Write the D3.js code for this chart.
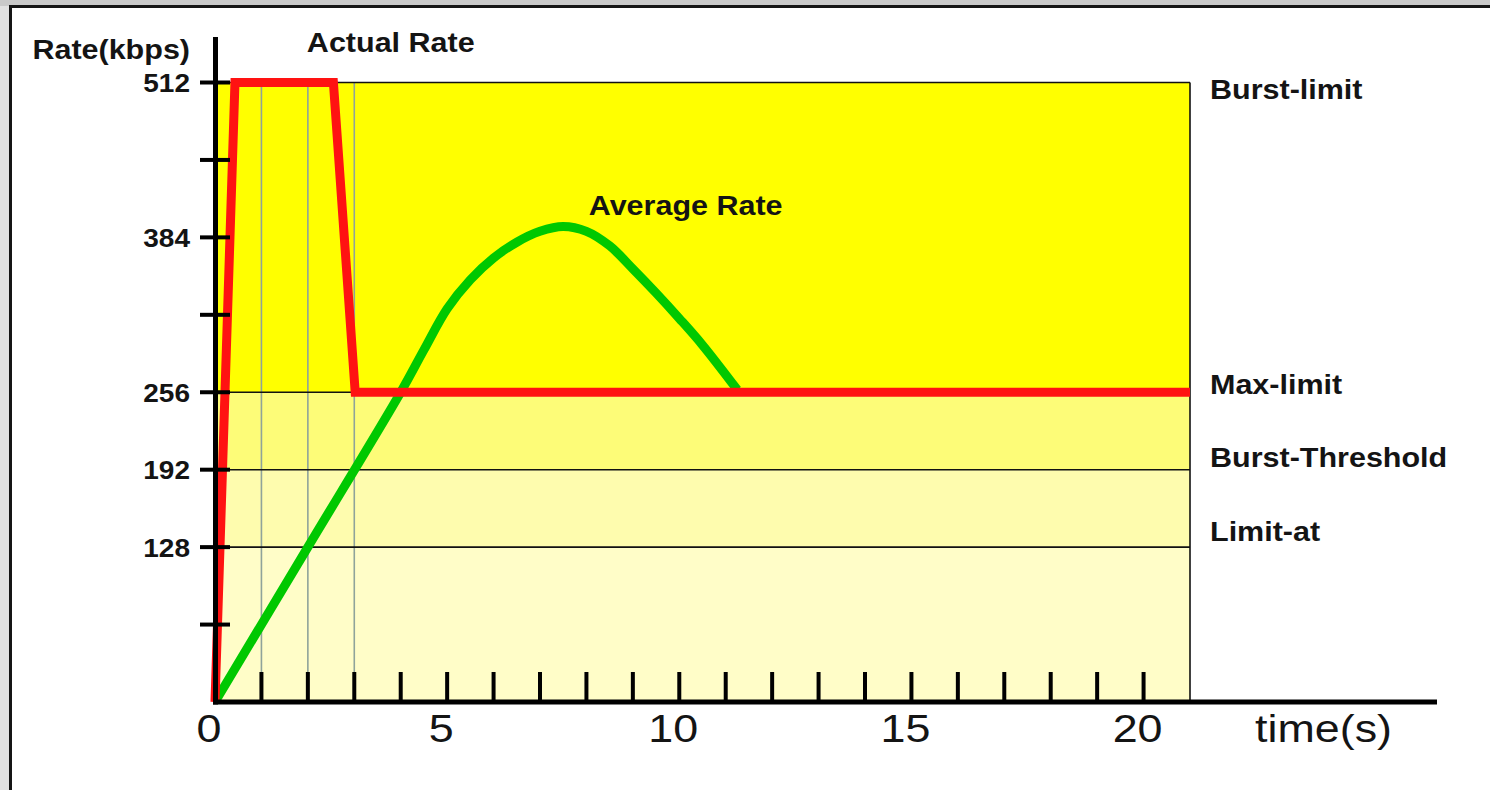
<!DOCTYPE html>
<html>
<head>
<meta charset="utf-8">
<script src="https://cdn.jsdelivr.net/npm/d3@7"></script>
<style>
  html, body { margin: 0; padding: 0; background: #ffffff; }
  svg { display: block; }
  text { font-family: "Liberation Sans", Arial, Helvetica, sans-serif; fill: #141414; }
</style>
</head>
<body>
<svg id="chart" width="1490" height="790"></svg>
<script>
// ---- data ----
const actualTime = [0, 0.43, 2.55, 3.02, 21];
const actualRate = [0, 512, 512, 256, 256];

const averageTime = [0, 2, 4, 4.5, 5.0, 5.5, 6.0, 6.5, 7.0, 7.5, 8.0, 8.5, 9.0, 9.5, 10.0, 10.5, 11.25];
const averageRate = [0, 128, 256, 291, 325, 349, 367, 380, 389, 393, 389, 377, 358, 338, 317, 295, 258];

const limitNames  = ["Burst-limit", "Max-limit", "Burst-Threshold", "Limit-at"];
const limitValues = [512, 256, 192, 128];

const bandEdges = [0, 128, 192, 256, 512];

const yTickValues = [64, 128, 192, 256, 320, 384, 448, 512];
const yTickLabels = [128, 192, 256, 384, 512];
const xTickValues = d3.range(1, 21);
const xTickLabels = [0, 5, 10, 15, 20];
const gridTimes   = [1, 2, 3];

// ---- layout ----
const svg = d3.select("#chart");
const x = d3.scaleLinear().domain([0, 21]).range([215, 1190]);
const y = d3.scaleLinear().domain([0, 512]).range([702, 82.5]);

const bandFill = ["#fffdc8", "#fefcae", "#fdfc78", "#ffff00"];
const limitDy  = [16, 1.5, -2.5, -6];

// page frame
svg.append("rect").attr("x", 0).attr("y", 0).attr("width", 1490).attr("height", 790).attr("fill", "#e1e1e1");
svg.append("rect").attr("x", 0).attr("y", 0).attr("width", 1490).attr("height", 6).attr("fill", "#c9c9c9");
svg.append("rect").attr("x", 10.5).attr("y", 6.5).attr("width", 1500).attr("height", 800)
  .attr("fill", "#ffffff").attr("stroke", "#151515").attr("stroke-width", 3);

// rate bands
const bands = d3.pairs(bandEdges);
svg.append("g").selectAll("rect").data(bands).join("rect")
  .attr("x", x(0))
  .attr("width", x(21) - x(0))
  .attr("y", d => y(d[1]))
  .attr("height", d => y(d[0]) - y(d[1]))
  .attr("fill", (d, i) => bandFill[i]);

// vertical time guides
svg.append("g").selectAll("line").data(gridTimes).join("line")
  .attr("x1", d => x(d)).attr("x2", d => x(d))
  .attr("y1", y(512)).attr("y2", y(0))
  .attr("stroke", "#8fa39a").attr("stroke-width", 1.6);

// limit lines and right border
svg.append("g").selectAll("line").data(limitValues).join("line")
  .attr("x1", x(0)).attr("x2", x(21))
  .attr("y1", d => y(d)).attr("y2", d => y(d))
  .attr("stroke", "#111").attr("stroke-width", 1.6);
svg.append("line")
  .attr("x1", x(21)).attr("x2", x(21)).attr("y1", y(512)).attr("y2", y(0))
  .attr("stroke", "#111").attr("stroke-width", 1.6);

// average rate curve
const avgLine = d3.line().x(d => x(d[0])).y(d => y(d[1])).curve(d3.curveCatmullRom.alpha(0.5));
svg.append("path")
  .attr("d", avgLine(d3.zip(averageTime, averageRate)))
  .attr("fill", "none").attr("stroke", "#00c800").attr("stroke-width", 9);

// actual rate line
const actLine = d3.line().x(d => x(d[0])).y(d => y(d[1]));
svg.append("path")
  .attr("d", actLine(d3.zip(actualTime, actualRate)))
  .attr("fill", "none").attr("stroke", "#ff1212").attr("stroke-width", 9)
  .attr("stroke-linejoin", "miter").attr("stroke-miterlimit", 10);

// axes
const axisX0 = x(0) + 0.5;
svg.append("line")
  .attr("x1", axisX0).attr("x2", axisX0).attr("y1", 37).attr("y2", y(0) + 2.5)
  .attr("stroke", "#000").attr("stroke-width", 5);
svg.append("line")
  .attr("x1", x(0) - 2).attr("x2", x(21) + 247).attr("y1", y(0)).attr("y2", y(0))
  .attr("stroke", "#000").attr("stroke-width", 5);

// x ticks pointing up into the plot
svg.append("g").selectAll("line").data(xTickValues).join("line")
  .attr("x1", d => x(d)).attr("x2", d => x(d))
  .attr("y1", y(0)).attr("y2", y(0) - 30)
  .attr("stroke", "#000").attr("stroke-width", 4);

// x labels
svg.append("g").selectAll("text").data(xTickLabels).join("text")
  .attr("transform", d => `translate(${x(d) - 6},742) scale(1.15,1)`)
  .attr("text-anchor", "middle")
  .style("font-size", "39px")
  .text(d => d);
svg.append("text")
  .attr("transform", "translate(1255,742) scale(1.15,1)")
  .style("font-size", "39px")
  .text("time(s)");

// y ticks crossing the axis
svg.append("g").selectAll("line").data(yTickValues).join("line")
  .attr("x1", axisX0 - 15.5).attr("x2", axisX0 + 14.5)
  .attr("y1", d => y(d)).attr("y2", d => y(d))
  .attr("stroke", "#000").attr("stroke-width", 4);

// y labels
svg.append("g").selectAll("text").data(yTickLabels).join("text")
  .attr("transform", d => `translate(190,${y(d) + 9.5}) scale(1.12,1)`)
  .attr("text-anchor", "end")
  .style("font-size", "25px").style("font-weight", "bold")
  .text(d => d);

svg.append("text")
  .attr("transform", "translate(190,59) scale(1.09,1)")
  .attr("text-anchor", "end")
  .style("font-size", "28px").style("font-weight", "bold")
  .text("Rate(kbps)");

// limit names on the right
svg.append("g").selectAll("text").data(limitNames).join("text")
  .attr("transform", (d, i) => `translate(${x(21) + 20},${y(limitValues[i]) + limitDy[i]}) scale(1.09,1)`)
  .style("font-size", "28px").style("font-weight", "bold")
  .text(d => d);

// series names
svg.append("text")
  .attr("transform", `translate(${x(2) - 1},${y(512) - 31}) scale(1.09,1)`)
  .style("font-size", "28px").style("font-weight", "bold")
  .text("Actual Rate");
svg.append("text")
  .attr("transform", `translate(${x(8.05)},215) scale(1.09,1)`)
  .style("font-size", "28px").style("font-weight", "bold")
  .text("Average Rate");
</script>
</body>
</html>
